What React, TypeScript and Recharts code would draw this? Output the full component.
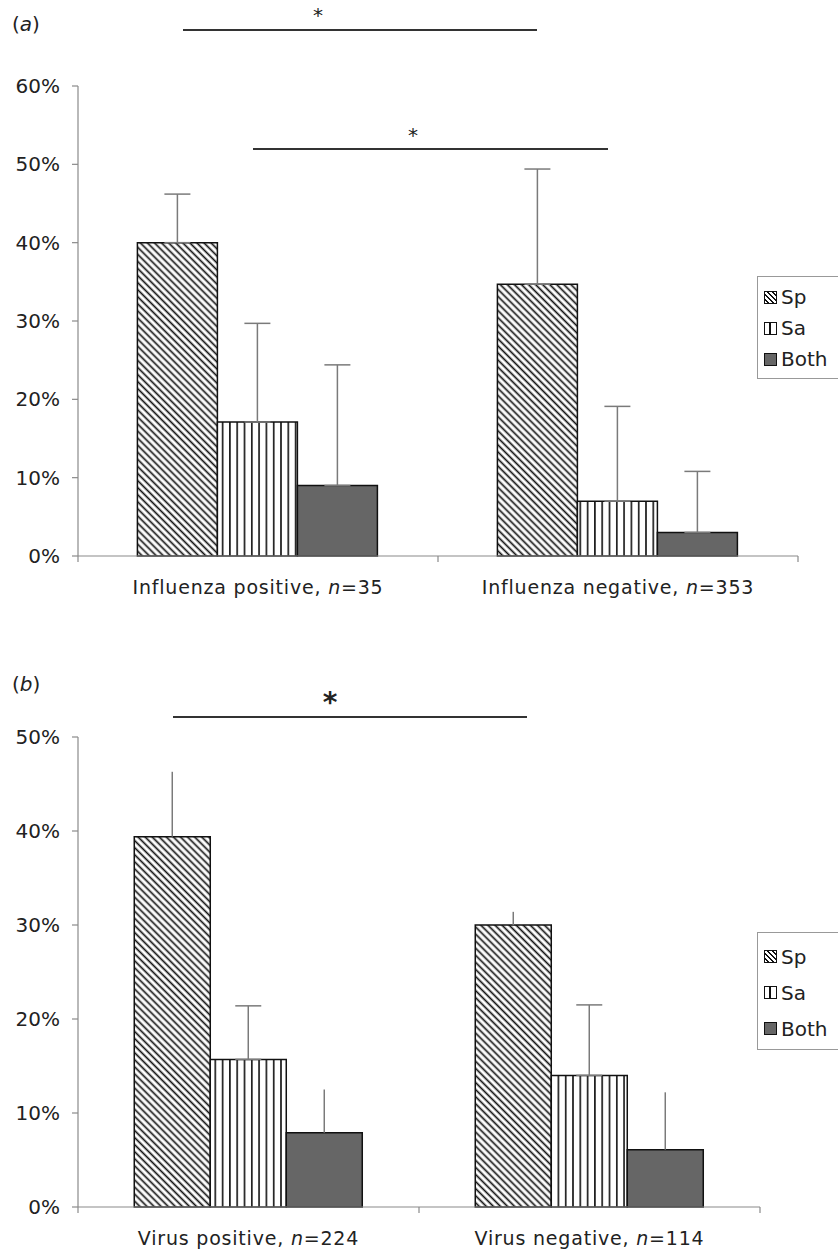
import React from 'react';
import { BarChart, Bar, XAxis, YAxis, ErrorBar, Legend } from 'recharts';

// panel (a): influenza
const fluGroups = ['Influenza positive', 'Influenza negative'];
const fluN = ['35', '353'];
const fluSp = [40.0, 34.7];
const fluSa = [17.1, 7.0];
const fluBoth = [9.0, 3.0];
// top of each error whisker
const fluSpTop = [46.2, 49.4];
const fluSaTop = [29.7, 19.1];
const fluBothTop = [24.4, 10.8];
const fluTicks = [0, 10, 20, 30, 40, 50, 60];

// panel (b): any virus
const virGroups = ['Virus positive', 'Virus negative'];
const virN = ['224', '114'];
const virSp = [39.4, 30.0];
const virSa = [15.7, 14.0];
const virBoth = [7.9, 6.1];
const virSpTop = [46.3, 31.4];
const virSaTop = [21.4, 21.5];
const virBothTop = [12.5, 12.2];
const virTicks = [0, 10, 20, 30, 40, 50];

const series = ['Sp', 'Sa', 'Both'];

const FONT = '"DejaVu Sans", Verdana, sans-serif';
const AXIS = '#8a8a8a';
const WHISKER = '#7a7a7a';

function buildRows(groups, ns, sp, sa, both, spTop, saTop, bothTop) {
  return groups.map((g, i) => ({
    name: g,
    n: ns[i],
    Sp: sp[i],
    Sa: sa[i],
    Both: both[i],
    SpErr: [0, +(spTop[i] - sp[i]).toFixed(2)],
    SaErr: [0, +(saTop[i] - sa[i]).toFixed(2)],
    BothErr: [0, +(bothTop[i] - both[i]).toFixed(2)],
  }));
}

const fluData = buildRows(fluGroups, fluN, fluSp, fluSa, fluBoth, fluSpTop, fluSaTop, fluBothTop);
const virData = buildRows(virGroups, virN, virSp, virSa, virBoth, virSpTop, virSaTop, virBothTop);

function Patterns({ id }) {
  return (
    <defs>
      <pattern id={`${id}-diag`} patternUnits="userSpaceOnUse" width="5" height="5" patternTransform="rotate(-45)">
        <rect width="5" height="5" fill="#fff" />
        <line x1="2.5" y1="0" x2="2.5" y2="5" stroke="#111" strokeWidth="1.7" />
      </pattern>
      <pattern id={`${id}-vert`} patternUnits="userSpaceOnUse" width="7.3" height="10">
        <rect width="7.3" height="10" fill="#fff" />
        <line x1="3.6" y1="0" x2="3.6" y2="10" stroke="#111" strokeWidth="1.6" />
      </pattern>
    </defs>
  );
}

// category label at the middle, small ticks at the band edges
function makeTick(band, ns, total) {
  return function CatTick(props) {
    const { x, y, payload, index } = props;
    const row = (payload && payload.value) || '';
    return (
      <g>
        <line x1={x - band / 2} y1={y} x2={x - band / 2} y2={y + 6} stroke={AXIS} strokeWidth={1.2} />
        {index === total - 1 && (
          <line x1={x + band / 2} y1={y} x2={x + band / 2} y2={y + 6} stroke={AXIS} strokeWidth={1.2} />
        )}
        <text
          x={x}
          y={y + 38}
          textAnchor="middle"
          fontSize={19}
          letterSpacing={0.8}
          fill="#222"
          fontFamily={FONT}
        >
          {row}, <tspan fontStyle="italic">n</tspan>={ns[index]}
        </text>
      </g>
    );
  };
}

function LegendBox({ rowGap }) {
  const icon = (s) => {
    const base = {
      display: 'inline-block',
      width: 11,
      height: 11,
      border: '1.5px solid #111',
      marginRight: 4,
      verticalAlign: 'middle',
      boxSizing: 'content-box',
    };
    if (s === 'Sp')
      return <span style={{ ...base, background: 'repeating-linear-gradient(45deg, #fff 0 2px, #111 2px 3.5px)' }} />;
    if (s === 'Sa')
      return <span style={{ ...base, background: 'linear-gradient(90deg, #fff 0 4.5px, #111 4.5px 6.5px, #fff 6.5px)' }} />;
    return <span style={{ ...base, background: '#666' }} />;
  };
  return (
    <div
      style={{
        border: '1px solid #999',
        background: '#fff',
        width: 100,
        padding: '4px 0 4px 6px',
        fontFamily: FONT,
        fontSize: 20,
        color: '#222',
      }}
    >
      {series.map((s) => (
        <div key={s} style={{ height: rowGap, lineHeight: `${rowGap}px`, whiteSpace: 'nowrap' }}>
          {icon(s)}
          <span style={{ verticalAlign: 'middle' }}>{s}</span>
        </div>
      ))}
    </div>
  );
}

function Panel({ id, data, ticks, max, width, height, margin, xHeight, ns, legendTop, rowGap, caps }) {
  const plotW = width - margin.left - margin.right - 78;
  const band = plotW / data.length;
  return (
    <BarChart
      width={width}
      height={height}
      data={data}
      margin={margin}
      barCategoryGap="16.5%"
      barGap={0}
    >
      <Patterns id={id} />
      <XAxis
        dataKey="name"
        height={xHeight}
        axisLine={{ stroke: AXIS, strokeWidth: 1.2 }}
        tickLine={false}
        tickSize={0}
        tickMargin={0}
        interval={0}
        tick={makeTick(band, ns, data.length)}
      />
      <YAxis
        width={78}
        domain={[0, max]}
        ticks={ticks}
        interval={0}
        tickFormatter={(v) => `${v}%`}
        axisLine={{ stroke: AXIS, strokeWidth: 1.2 }}
        tickLine={{ stroke: AXIS, strokeWidth: 1.2 }}
        tickSize={6}
        tickMargin={12}
        tick={{ fontSize: 20, fill: '#222', fontFamily: FONT }}
      />
      <Legend
        layout="horizontal"
        verticalAlign="middle"
        align="center"
        wrapperStyle={{ left: 757, top: legendTop, width: 110 }}
        content={() => <LegendBox rowGap={rowGap} />}
      />
      <Bar dataKey="Sp" fill={`url(#${id}-diag)`} stroke="#111" strokeWidth={1.5} isAnimationActive={false}>
        <ErrorBar dataKey="SpErr" direction="y" width={caps[0]} stroke={WHISKER} strokeWidth={1.5} isAnimationActive={false} />
      </Bar>
      <Bar dataKey="Sa" fill={`url(#${id}-vert)`} stroke="#111" strokeWidth={1.5} isAnimationActive={false}>
        <ErrorBar dataKey="SaErr" direction="y" width={caps[1]} stroke={WHISKER} strokeWidth={1.5} isAnimationActive={false} />
      </Bar>
      <Bar dataKey="Both" fill="#666" stroke="#111" strokeWidth={1.5} isAnimationActive={false}>
        <ErrorBar dataKey="BothErr" direction="y" width={caps[2]} stroke={WHISKER} strokeWidth={1.5} isAnimationActive={false} />
      </Bar>
    </BarChart>
  );
}

function SigLine({ x1, x2, y, starX, starY, size, bold }) {
  return (
    <>
      <div style={{ position: 'absolute', left: x1, top: y - 1, width: x2 - x1, height: 2, background: '#333' }} />
      <div
        style={{
          position: 'absolute',
          left: starX - 10,
          top: starY - size * 0.45,
          width: 20,
          textAlign: 'center',
          fontSize: size,
          lineHeight: 1,
          fontWeight: bold ? 'bold' : 'normal',
          fontFamily: FONT,
          color: '#222',
        }}
      >
        *
      </div>
    </>
  );
}

const panelLabel = {
  position: 'absolute',
  left: 12,
  fontFamily: FONT,
  fontSize: 20,
  color: '#222',
};

export default function App() {
  return (
    <div
      style={{
        position: 'absolute',
        top: 0,
        left: 0,
        width: 838,
        height: 1260,
        overflow: 'hidden',
        background: '#fff',
        fontFamily: FONT,
      }}
    >
      <div style={{ ...panelLabel, top: 12 }}>
        (<i>a</i>)
      </div>
      <div style={{ position: 'absolute', top: 0, left: 0 }}>
        <Panel
          id="flu"
          data={fluData}
          ticks={fluTicks}
          max={60}
          width={838}
          height={620}
          margin={{ top: 86, right: 40, bottom: 14, left: 0 }}
          xHeight={50}
          ns={fluN}
          legendTop={276}
          rowGap={31}
          caps={[13, 13, 13]}
        />
      </div>
      <SigLine x1={183} x2={537} y={30} starX={318} starY={14} size={20} />
      <SigLine x1={253} x2={608} y={149} starX={413} starY={134} size={20} />

      <div style={{ ...panelLabel, top: 672 }}>
        (<i>b</i>)
      </div>
      <div style={{ position: 'absolute', top: 660, left: 0 }}>
        <Panel
          id="vir"
          data={virData}
          ticks={virTicks}
          max={50}
          width={838}
          height={600}
          margin={{ top: 77, right: 78, bottom: 8, left: 0 }}
          xHeight={45}
          ns={virN}
          legendTop={272}
          rowGap={36}
          caps={[0, 13, 0]}
        />
      </div>
      <SigLine x1={173} x2={527} y={717} starX={330} starY={702} size={28} bold />
    </div>
  );
}
